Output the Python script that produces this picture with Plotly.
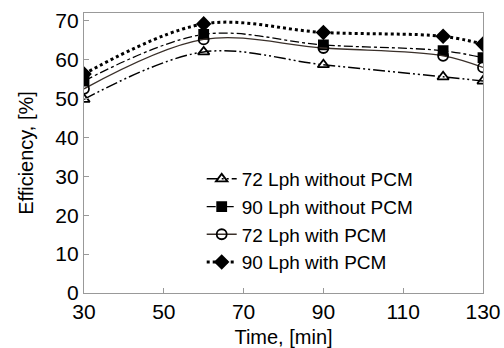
import plotly.graph_objects as go

time = [30, 60, 90, 120, 130]
eff_72_without = [49.8, 62.0, 58.7, 55.6, 54.5]
eff_90_without = [54.5, 66.5, 63.8, 62.3, 60.5]
eff_72_with = [52.5, 65.2, 63.0, 61.0, 58.0]
eff_90_with = [56.3, 69.2, 67.0, 66.0, 64.0]

series = [
    ("72 Lph without PCM", eff_72_without, "triangle-up-open", dict(dash="12px,3px,2px,3px,2px,3px", width=1.5), 10),
    ("90 Lph without PCM", eff_90_without, "square", dict(dash="dashdot", width=1.3), 9),
    ("72 Lph with PCM", eff_72_with, "circle-open", dict(dash="solid", width=1.3, color="#3a302a"), 10),
    ("90 Lph with PCM", eff_90_with, "diamond", dict(dash="dot", width=3), 10),
]

fig = go.Figure()
for name, y, sym, line, size in series:
    ln = dict(color="black", shape="spline", smoothing=1.0)
    ln.update(line)
    fig.add_trace(go.Scatter(
        x=time, y=y, name=name, mode="lines+markers",
        line=ln,
        marker=dict(symbol=sym, size=size, color="black",
                    line=dict(color="black", width=1.8)),
    ))

axis_common = dict(
    showline=True, linecolor="#999999", linewidth=1.2, mirror=True,
    ticks="inside", tickcolor="#999999", ticklen=5,
    showgrid=False, zeroline=False, automargin=False,
    tickfont=dict(family="Liberation Sans, Arial", size=21, color="black"),
)

fig.update_layout(
    width=504, height=348,
    margin=dict(l=84, r=21, t=13, b=55),
    paper_bgcolor="white", plot_bgcolor="white",
    font=dict(family="Liberation Sans, Arial", color="black"),
    xaxis=dict(range=[30, 130], tickvals=[30, 50, 70, 90, 110, 130],
               title=dict(text="Time, [min]", font=dict(size=20), standoff=8),
               **axis_common),
    yaxis=dict(range=[0, 72], tickvals=[0, 10, 20, 30, 40, 50, 60, 70],
               title=dict(text="Efficiency, [%]", font=dict(size=20), standoff=16),
               **axis_common),
    legend=dict(x=0.295, y=0.475, xanchor="left", yanchor="top",
                font=dict(size=19), bgcolor="rgba(0,0,0,0)",
                tracegroupgap=0, itemwidth=30),
    showlegend=True,
)

fig.write_html("out.html")
